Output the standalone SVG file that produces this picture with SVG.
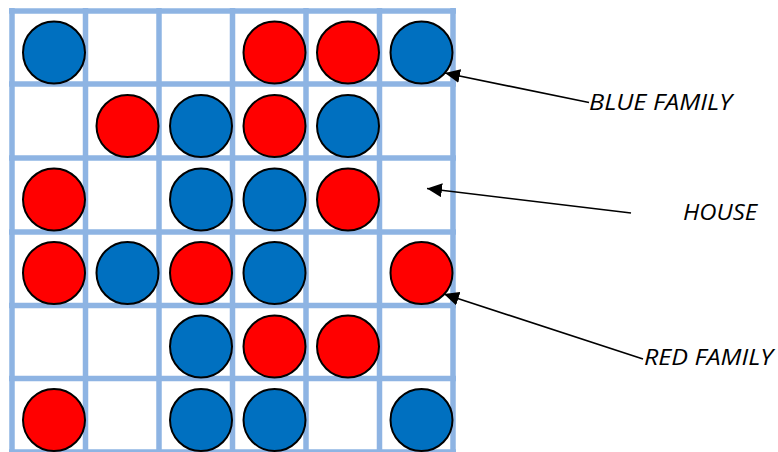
<svg xmlns="http://www.w3.org/2000/svg" width="778" height="452" viewBox="0 0 778 452">
<style>
.grid line{stroke:#8EB4E3;stroke-width:5.5}
.b{fill:#0070C0;stroke:#000;stroke-width:2}
.r{fill:#FF0000;stroke:#000;stroke-width:2}
.conn line{stroke:#000;stroke-width:1.6}
.lbl{font-family:"Open Sans","Liberation Sans",Arial,sans-serif;font-style:italic;font-size:21px;fill:#000}
</style>
<defs>
<marker id="ah2" viewBox="0 0 15 14" refX="15" refY="7" markerWidth="15" markerHeight="14" markerUnits="userSpaceOnUse" orient="auto">
<path d="M0,0 L15,7 L0,14 Z" fill="#000"/>
</marker>
</defs>
<rect width="778" height="452" fill="#fff"/>
<g id="grid" class="grid">
<line x1="12" y1="8" x2="12" y2="455"/>
<line x1="85.5" y1="8" x2="85.5" y2="455"/>
<line x1="159" y1="8" x2="159" y2="455"/>
<line x1="232.5" y1="8" x2="232.5" y2="455"/>
<line x1="306" y1="8" x2="306" y2="455"/>
<line x1="379.5" y1="8" x2="379.5" y2="455"/>
<line x1="453" y1="8" x2="453" y2="455"/>
<line x1="9" y1="11" x2="456" y2="11"/>
<line x1="9" y1="84" x2="456" y2="84"/>
<line x1="9" y1="158" x2="456" y2="158"/>
<line x1="9" y1="232" x2="456" y2="232"/>
<line x1="9" y1="305.5" x2="456" y2="305.5"/>
<line x1="9" y1="378.5" x2="456" y2="378.5"/>
<line x1="9" y1="452" x2="456" y2="452"/>
</g>
<g id="pieces">
<circle class="b" cx="54" cy="52.5" r="31"/>
<circle class="r" cx="274.5" cy="52.5" r="31"/>
<circle class="r" cx="348" cy="52.5" r="31"/>
<circle class="b" cx="421.5" cy="52.5" r="31"/>

<circle class="r" cx="127.5" cy="126" r="31"/>
<circle class="b" cx="201" cy="126" r="31"/>
<circle class="r" cx="274.5" cy="126" r="31"/>
<circle class="b" cx="348" cy="126" r="31"/>

<circle class="r" cx="54" cy="199.5" r="31"/>
<circle class="b" cx="201" cy="199.5" r="31"/>
<circle class="b" cx="274.5" cy="199.5" r="31"/>
<circle class="r" cx="348" cy="199.5" r="31"/>

<circle class="r" cx="54" cy="273" r="31"/>
<circle class="b" cx="127.5" cy="273" r="31"/>
<circle class="r" cx="201" cy="273" r="31"/>
<circle class="b" cx="274.5" cy="273" r="31"/>
<circle class="r" cx="421.5" cy="273" r="31"/>

<circle class="b" cx="201" cy="346.5" r="31"/>
<circle class="r" cx="274.5" cy="346.5" r="31"/>
<circle class="r" cx="348" cy="346.5" r="31"/>

<circle class="r" cx="54" cy="420" r="31"/>
<circle class="b" cx="201" cy="420" r="31"/>
<circle class="b" cx="274.5" cy="420" r="31"/>
<circle class="b" cx="421.5" cy="420" r="31"/>
</g>
<g id="connectors" class="conn">
<line x1="589" y1="102.5" x2="445" y2="73" marker-end="url(#ah2)"/>
<line x1="631" y1="213" x2="427" y2="188.5" marker-end="url(#ah2)"/>
<line x1="643" y1="359" x2="444" y2="294" marker-end="url(#ah2)"/>
</g>
<g id="label-blue"><text class="lbl" x="589" y="109.5" textLength="143" lengthAdjust="spacingAndGlyphs">BLUE FAMILY</text></g>
<g id="label-house"><text class="lbl" x="683" y="220" textLength="74" lengthAdjust="spacingAndGlyphs">HOUSE</text></g>
<g id="label-red"><text class="lbl" x="644" y="365" textLength="129" lengthAdjust="spacingAndGlyphs">RED FAMILY</text></g>
</svg>
